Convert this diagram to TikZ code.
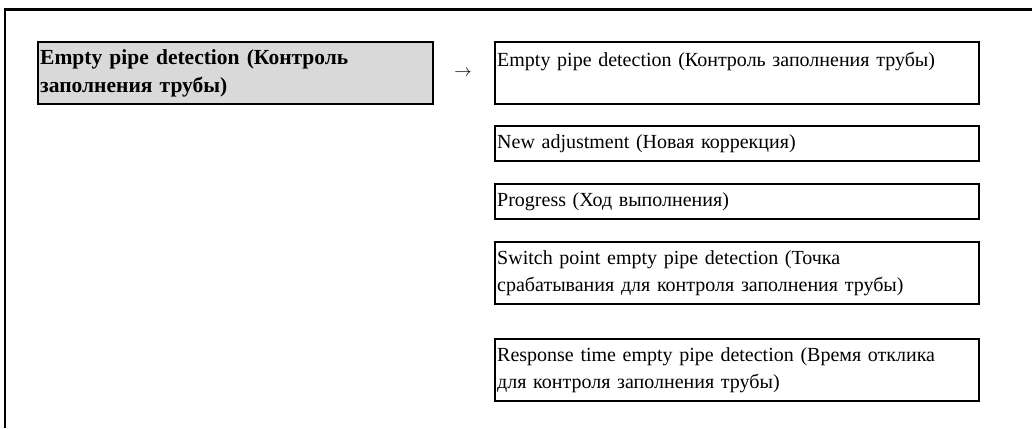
\documentclass[tikz,border=0pt]{standalone}
\usepackage{fontspec}
\setmainfont{Liberation Serif}
\usepackage{tikz}
\usetikzlibrary{positioning}
\definecolor{menugray}{RGB}{217,217,217}

\begin{document}
\begin{tikzpicture}[x=1pt,y=-1pt,line width=2.4pt,
  every node/.style={font=\fontsize{20}{27}\selectfont},
  menubox/.style={draw,anchor=north west,align=left,inner xsep=2pt,inner ysep=0pt,text width=480pt},
  optbox/.style={menubox,minimum height=35pt},
  optbox2/.style={menubox,minimum height=62pt}]
\useasboundingbox (0,0) rectangle (1032,428);
\draw (5,428) -- (5,9.5) -- (1032,9.5);
\node[optbox2,fill=menugray,text width=391pt,font=\fontsize{21.5}{28}\selectfont\bfseries] (epd) at (37,41) {Empty pipe detection (Контроль\\заполнения трубы)};
\node[font=\fontsize{17}{17}\selectfont] (arr) at (463,73) {$\rightarrow$};
\node[optbox2] (sub) at (494,41) {Empty pipe detection (Контроль заполнения трубы)\\\mbox{}};
\node[optbox] (adj) at (494,125) {New adjustment (Новая коррекция)};
\node[optbox] (prog) at (494,183) {Progress (Ход выполнения)};
\node[optbox2] (swp) at (494,241) {Switch point empty pipe detection (Точка\\срабатывания для контроля заполнения трубы)};
\node[optbox2] (resp) at (494,338) {Response time empty pipe detection (Время отклика\\для контроля заполнения трубы)};
\end{tikzpicture}
\end{document}
